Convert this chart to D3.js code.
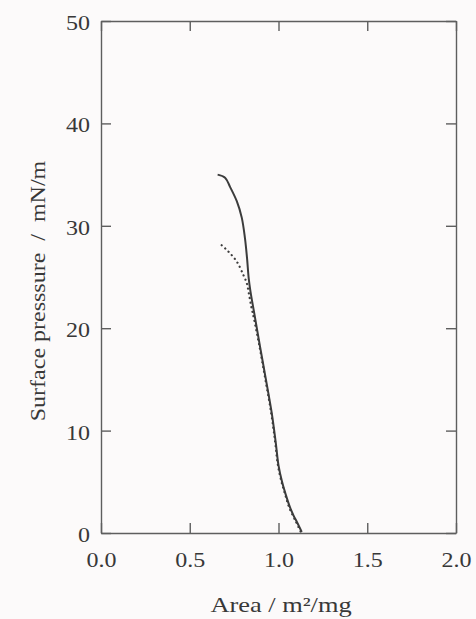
<!DOCTYPE html>
<html>
<head>
<meta charset="utf-8">
<script src="https://cdn.jsdelivr.net/npm/d3@7/dist/d3.min.js"></script>
<style>
    body { margin: 0; background: #fcfafa; }
    svg { display: block; }
    .axis path, .axis line { stroke: #5e5e5e; stroke-width: 1.4; }
    text { font-family: "Liberation Serif", "Times New Roman", serif; fill: #383838; }
    .title { white-space: pre; }
    .curve { fill: none; stroke: #3c3c3c; }
</style>
</head>
<body>
<div id="chart"></div>
<script>
// isotherm, solid line
const solidArea = [0.657, 0.699, 0.727, 0.765, 0.793, 0.811, 0.823, 0.832, 0.842, 0.863, 0.896, 0.929, 0.962, 0.984, 1.000, 1.020, 1.040, 1.065, 1.085, 1.103, 1.131];
const solidPressure = [35.0, 34.7, 33.8, 32.4, 30.8, 28.8, 26.8, 24.9, 23.6, 21.5, 18.2, 15.0, 11.7, 8.9, 6.6, 5.0, 3.8, 2.5, 1.7, 1.1, 0.1];

// isotherm, dotted line
const dottedArea = [0.680, 0.717, 0.765, 0.802, 0.821, 0.835, 0.848, 0.861, 0.893, 0.926, 0.959, 0.981, 0.997, 1.017, 1.037, 1.060, 1.098, 1.126];
const dottedPressure = [28.1, 27.5, 26.5, 25.2, 24.4, 23.2, 22.0, 21.0, 18.2, 15.0, 11.7, 8.9, 6.6, 5.0, 3.8, 2.5, 1.1, 0.1];

const xTicks = [0, 0.5, 1.0, 1.5, 2.0];
const yTicks = [0, 10, 20, 30, 40, 50];
const xTitle = 'Area / m²/mg';
const yTitle = 'Surface presssure  /  mN/m';

const margin = {top: 21, right: 20, bottom: 86, left: 101};
const width = 476 - margin.left - margin.right;
const height = 619 - margin.top - margin.bottom;
const stretch = 1.2;   // the printed font is wider than Times

const svg = d3.select('#chart').append('svg')
    .attr('width', 476)
    .attr('height', 619)
    .append('g')
        .attr('transform', 'translate(' + margin.left + ',' + margin.top + ')');

const x = d3.scaleLinear().domain([0, 2]).range([0, width]);
const y = d3.scaleLinear().domain([0, 50]).range([height, 0]);

// frame with inward ticks on all four sides
svg.append('g')
    .attr('class', 'axis x')
    .attr('transform', 'translate(0,' + height + ')')
    .call(d3.axisBottom(x).tickValues(xTicks).tickSizeInner(-10).tickSizeOuter(0).tickPadding(20).tickFormat(d3.format('.1f')));

svg.append('g')
    .attr('class', 'axis x2')
    .call(d3.axisTop(x).tickValues(xTicks).tickSizeInner(-10).tickSizeOuter(0).tickFormat(''));

svg.append('g')
    .attr('class', 'axis y')
    .call(d3.axisLeft(y).tickValues(yTicks).tickSizeInner(-10).tickSizeOuter(0).tickPadding(10));

svg.append('g')
    .attr('class', 'axis y2')
    .attr('transform', 'translate(' + width + ',0)')
    .call(d3.axisRight(y).tickValues(yTicks).tickSizeInner(-10).tickSizeOuter(0).tickFormat(''));

svg.selectAll('.axis text')
    .style('font-size', '20px')
    .attr('transform', 'scale(' + stretch + ',1)');

svg.selectAll('.axis.y text')
    .attr('x', -11 / stretch)
    .attr('dy', '0.42em');

// curves
const solid = solidArea.map((d, i) => [d, solidPressure[i]]);
const dotted = dottedArea.map((d, i) => [d, dottedPressure[i]]);

const line = d3.line()
    .x(d => x(d[0]))
    .y(d => y(d[1]))
    .curve(d3.curveCatmullRom);

svg.append('path')
    .datum(dotted)
    .attr('class', 'curve')
    .attr('stroke-width', 2.2)
    .attr('stroke-linecap', 'round')
    .attr('stroke-dasharray', '0.1,4.6')
    .attr('d', line);

svg.append('path')
    .datum(solid)
    .attr('class', 'curve')
    .attr('stroke-width', 2)
    .attr('d', line);

// axis titles
svg.append('text')
    .attr('class', 'title')
    .attr('transform', 'translate(' + (281 - margin.left) + ',' + (612 - margin.top) + ') scale(' + stretch + ',1)')
    .attr('text-anchor', 'middle')
    .style('font-size', '22px')
    .text(xTitle);

svg.append('text')
    .attr('class', 'title')
    .attr('transform', 'translate(' + (45 - margin.left) + ',' + (291 - margin.top) + ') rotate(-90) scale(' + stretch + ',1)')
    .attr('text-anchor', 'middle')
    .style('font-size', '20px')
    .text(yTitle);
</script>
</body>
</html>
